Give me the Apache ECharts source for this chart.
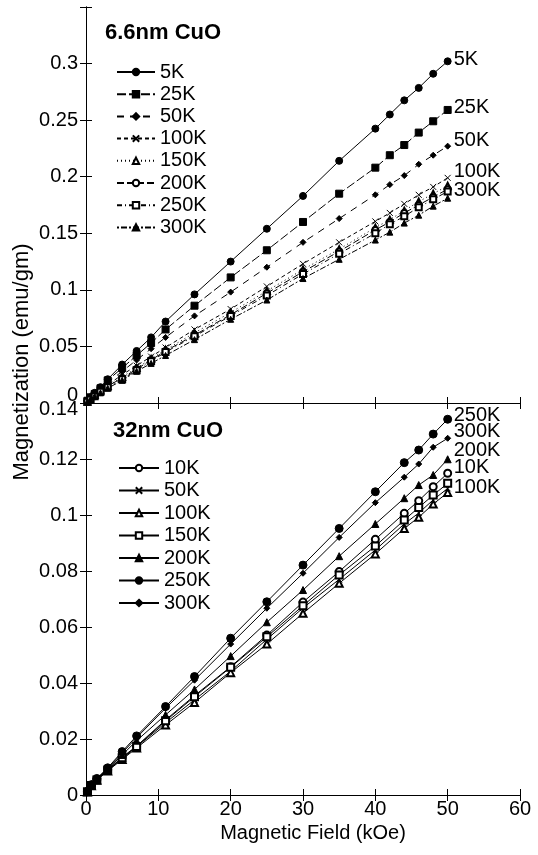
<!DOCTYPE html>
<html>
<head>
<meta charset="utf-8">
<script src="https://cdn.jsdelivr.net/npm/echarts@6/dist/echarts.min.js"></script>
<style>
  html, body { margin: 0; padding: 0; background: #fff; }
  #chart { width: 538px; height: 855px; }
</style>
</head>
<body>
<div id="chart"></div>
<script>
// field values (kOe) for each panel
const fieldTop = [0.2, 0.6, 1.2, 2, 3, 5, 7, 9, 11, 15, 20, 25, 30, 35, 40, 42, 44, 46, 48, 50];
const fieldBottom = [0.2, 0.75, 1.5, 3, 5, 7, 11, 15, 20, 25, 30, 35, 40, 44, 46, 48, 50];

// 6.6nm CuO, magnetization (emu/gm)
const top5K   = [0.002, 0.005, 0.009, 0.014, 0.021, 0.034, 0.046, 0.058, 0.072, 0.096, 0.125, 0.154, 0.183, 0.214, 0.2425, 0.255, 0.2675, 0.2785, 0.291, 0.302];
const top25K  = [0.002, 0.005, 0.008, 0.013, 0.020, 0.031, 0.042, 0.053, 0.065, 0.086, 0.111, 0.135, 0.160, 0.185, 0.208, 0.219, 0.228, 0.239, 0.249, 0.259];
const top50K  = [0.002, 0.004, 0.008, 0.012, 0.018, 0.028, 0.038, 0.048, 0.058, 0.077, 0.098, 0.120, 0.142, 0.163, 0.184, 0.193, 0.201, 0.211, 0.219, 0.227];
const top100K = [0.001, 0.004, 0.007, 0.011, 0.016, 0.025, 0.033, 0.041, 0.049, 0.065, 0.083, 0.103, 0.123, 0.142, 0.1605, 0.168, 0.176, 0.184, 0.191, 0.199];
const top150K = [0.001, 0.004, 0.007, 0.011, 0.015, 0.023, 0.031, 0.039, 0.047, 0.062, 0.080, 0.099, 0.118, 0.136, 0.155, 0.162, 0.170, 0.178, 0.185, 0.192];
const top200K = [0.001, 0.003, 0.006, 0.010, 0.015, 0.022, 0.030, 0.038, 0.046, 0.060, 0.078, 0.097, 0.116, 0.134, 0.153, 0.160, 0.168, 0.175, 0.182, 0.189];
const top250K = [0.001, 0.003, 0.006, 0.010, 0.014, 0.021, 0.029, 0.037, 0.045, 0.059, 0.077, 0.095, 0.114, 0.132, 0.150, 0.158, 0.165, 0.173, 0.180, 0.187];
const top300K = [0.001, 0.003, 0.006, 0.009, 0.013, 0.020, 0.028, 0.035, 0.042, 0.056, 0.074, 0.091, 0.110, 0.127, 0.144, 0.151, 0.159, 0.166, 0.174, 0.181];

// 32nm CuO
const bot10K  = [0.0012, 0.0035, 0.0055, 0.0090, 0.0135, 0.0175, 0.0268, 0.0355, 0.0458, 0.0571, 0.0689, 0.0798, 0.0913, 0.1006, 0.1051, 0.1101, 0.1149];
const bot50K  = [0.0012, 0.0034, 0.0054, 0.0088, 0.0130, 0.0172, 0.0258, 0.0340, 0.0442, 0.0556, 0.0668, 0.0770, 0.0875, 0.0968, 0.1007, 0.1054, 0.1095];
const bot100K = [0.0011, 0.0033, 0.0053, 0.0086, 0.0127, 0.0168, 0.0250, 0.0330, 0.0437, 0.0539, 0.0649, 0.0756, 0.0861, 0.0952, 0.0992, 0.1039, 0.1080];
const bot150K = [0.0012, 0.0034, 0.0054, 0.0089, 0.0133, 0.0173, 0.0265, 0.0351, 0.0456, 0.0565, 0.0676, 0.0786, 0.0889, 0.0982, 0.1027, 0.1071, 0.1113];
const bot200K = [0.0012, 0.0036, 0.0057, 0.0093, 0.0143, 0.0194, 0.0286, 0.0377, 0.0496, 0.0617, 0.0732, 0.0853, 0.0968, 0.1060, 0.1107, 0.1143, 0.1199];
const bot250K = [0.0013, 0.0037, 0.0059, 0.0097, 0.0155, 0.0211, 0.0316, 0.0423, 0.0560, 0.0690, 0.0821, 0.0952, 0.1083, 0.1187, 0.1232, 0.1289, 0.1342];
const bot300K = [0.0013, 0.0036, 0.0058, 0.0095, 0.0150, 0.0205, 0.0310, 0.0410, 0.0539, 0.0667, 0.0792, 0.0920, 0.1044, 0.1135, 0.1182, 0.1242, 0.1274];

const FONT = '"Liberation Sans", Arial, sans-serif';
const CROSS = 'path://M0,0L10,10M10,0L0,10';

const zip = (xs, ys) => xs.map((x, i) => [x, ys[i]]);

// name, values, symbol, size, dash, end label offset (null = no label)
const topDefs = [
  ['5K',   top5K,   'circle',        7, 'solid',        [0, -2]],
  ['25K',  top25K,  'rect',          7, [9, 3],         [0, -2]],
  ['50K',  top50K,  'diamond',       6, [7, 6],         [0, -6]],
  ['100K', top100K, CROSS,           6, [4, 3],         [0, -6]],
  ['150K', top150K, 'emptyTriangle', 6, [1, 3],         null],
  ['200K', top200K, 'emptyCircle',   6, [7, 3],         null],
  ['250K', top250K, 'emptyRect',     6, [5, 3, 1, 3],   null],
  ['300K', top300K, 'triangle',      6, [2, 2, 6, 2],   [0, -8]],
];
const botDefs = [
  ['10K',  bot10K,  'emptyCircle',   7, 'solid', [0, -6]],
  ['50K',  bot50K,  CROSS,           6, 'solid', null],
  ['100K', bot100K, 'emptyTriangle', 7, 'solid', [0, -5]],
  ['150K', bot150K, 'emptyRect',     7, 'solid', null],
  ['200K', bot200K, 'triangle',      7, 'solid', [0, -9]],
  ['250K', bot250K, 'circle',        8, 'solid', [0, -4]],
  ['300K', bot300K, 'diamond',       6, 'solid', [0, -7]],
];

function makeSeries(prefix, def, axisIndex) {
  const [name, values, symbol, size, dash, off] = def;
  return {
    name: prefix + name,
    type: 'line',
    xAxisIndex: axisIndex,
    yAxisIndex: axisIndex,
    data: zip(prefix === 'a:' ? fieldTop : fieldBottom, values),
    symbol: symbol,
    symbolSize: size,
    showAllSymbol: true,
    lineStyle: { color: '#000', width: 1, type: dash },
    itemStyle: {
      color: '#000',
      borderColor: '#000',
      borderWidth: 1,
    },
    endLabel: off ? {
      show: true,
      formatter: name,
      color: '#000',
      fontFamily: FONT,
      fontSize: 20,
      distance: 6,
      offset: off,
    } : { show: false },
    labelLayout: { hideOverlap: false },
    animation: false,
  };
}

const series = [
  ...topDefs.map((d) => makeSeries('a:', d, 0)),
  ...botDefs.map((d) => makeSeries('b:', d, 2)),
];

const axisLine = { show: true, lineStyle: { color: '#000', width: 1 } };
const tick = { show: true, inside: true, length: 6, lineStyle: { color: '#000' } };

function xAxis(grid, pos, labels) {
  return {
    type: 'value', gridIndex: grid, position: pos, min: 0, max: 60, interval: 10,
    axisLine, axisTick: tick, splitLine: { show: false },
    axisLabel: labels
      ? { show: true, color: '#000', fontFamily: FONT, fontSize: 20, margin: 4 }
      : { show: false },
  };
}

function yAxis(grid, pos, max, interval, labels, fmt) {
  return {
    type: 'value', gridIndex: grid, position: pos, min: 0, max, interval,
    axisLine, axisTick: tick, splitLine: { show: false },
    axisLabel: labels
      ? {
          show: true, color: '#000', fontFamily: FONT, fontSize: 20, margin: 8,
          formatter: fmt,
          rich: {
            u: { fontFamily: FONT, fontSize: 20, color: '#000', padding: [0, 0, 16, 0] },
            d: { fontFamily: FONT, fontSize: 20, color: '#000', padding: [12, 0, 0, 0] },
          },
        }
      : { show: false },
  };
}

const legendText = { fontFamily: FONT, fontSize: 20, lineHeight: 20, color: '#000' };

const option = {
  backgroundColor: '#fff',
  animation: false,
  title: [
    { text: '6.6nm CuO', left: 100, top: 17, textStyle: { fontFamily: FONT, fontSize: 22, fontWeight: 'bold', color: '#000' } },
    { text: '32nm CuO', left: 108, top: 415, textStyle: { fontFamily: FONT, fontSize: 22, fontWeight: 'bold', color: '#000' } },
  ],
  legend: [
    {
      data: topDefs.map((d) => 'a:' + d[0]),
      orient: 'vertical', left: 111, top: 57, itemWidth: 38, itemHeight: 8, itemGap: 2.2,
      formatter: (n) => n.slice(2),
      textStyle: legendText,
      selectedMode: false,
    },
    {
      data: botDefs.map((d) => 'b:' + d[0]),
      orient: 'vertical', left: 113, top: 453, itemWidth: 40, itemHeight: 8, itemGap: 2.5,
      formatter: (n) => n.slice(2),
      textStyle: legendText,
      selectedMode: false,
    },
  ],
  grid: [
    { left: 86, right: 18, top: 7, height: 396 },
    { left: 86, right: 18, top: 403, height: 392 },
  ],
  xAxis: [
    xAxis(0, 'bottom', false),
    xAxis(0, 'top', false),
    Object.assign(xAxis(1, 'bottom', true), {
      name: 'Magnetic Field (kOe)', nameLocation: 'middle', nameGap: 28,
      nameTextStyle: { fontFamily: FONT, fontSize: 20, color: '#000', padding: [0, 0, 0, 20] },
    }),
    xAxis(1, 'top', false),
  ],
  yAxis: [
    yAxis(0, 'left', 0.35, 0.05, true, (v) => (v === 0 ? '{u|0}' : v > 0.34 ? '' : String(+v.toFixed(2)))),
    yAxis(0, 'right', 0.35, 0.05, false),
    yAxis(1, 'left', 0.14, 0.02, true, (v) => (v > 0.139 ? '{d|0.14}' : String(+v.toFixed(2)))),
    yAxis(1, 'right', 0.14, 0.02, false),
  ],
  graphic: [
    {
      type: 'text', x: 22, y: 362, rotation: Math.PI / 2,
      style: { text: 'Magnetization (emu/gm)', fontFamily: FONT, fontSize: 22, fill: '#000', align: 'center', verticalAlign: 'middle' },
    },
  ],
  series,
};

const chart = echarts.init(document.getElementById('chart'), null, { renderer: 'canvas' });
chart.setOption(option);
</script>
</body>
</html>
